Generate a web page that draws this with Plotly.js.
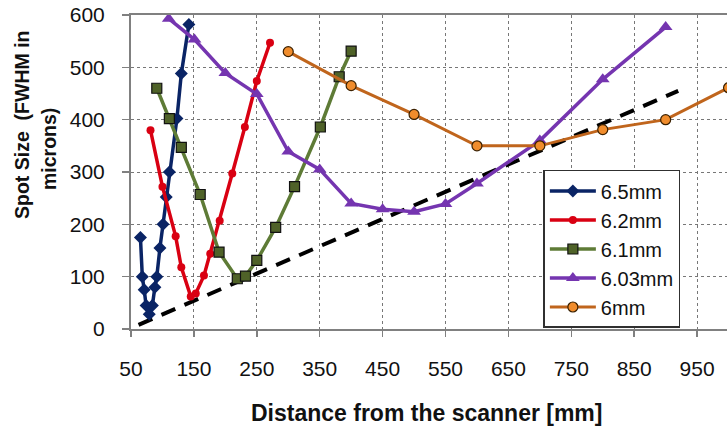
<!DOCTYPE html>
<html>
<head>
<meta charset="utf-8">
<script src="https://cdn.plot.ly/plotly-3.0.1.min.js"></script>
<style>
html,body{margin:0;padding:0;overflow:hidden;background:#fff;}
#chart{width:770px;height:433px;}
</style>
</head>
<body>
<div id="chart"></div>
<script>
// Series names
const seriesNames = ["6.5mm", "6.2mm", "6.1mm", "6.03mm", "6mm"];

// 6.5mm
const x65 = [65, 68, 71, 74, 79, 84, 88, 91, 96, 101, 106, 111, 123, 130, 142];
const y65 = [175, 100, 75, 45, 28, 45, 80, 100, 155, 200, 252, 300, 402, 488, 582];

// 6.2mm
const x62 = [81, 100, 121, 130, 145, 153, 166, 176, 191, 211, 231, 250, 271];
const y62 = [380, 272, 177, 118, 62, 68, 102, 144, 207, 297, 386, 474, 547];

// 6.1mm
const x61 = [91, 111, 130, 160, 190, 219, 232, 250, 280, 310, 351, 381, 400];
const y61 = [460, 402, 347, 257, 147, 96, 101, 131, 194, 272, 386, 482, 531];

// 6.03mm
const x603 = [110, 151, 200, 250, 300, 350, 400, 450, 500, 550, 600, 700, 800, 900];
const y603 = [593, 553, 489, 449, 339, 305, 240, 229, 224, 239, 278, 360, 477, 577];

// 6mm
const x6 = [300, 400, 500, 600, 700, 800, 900, 1000];
const y6 = [530, 465, 410, 350, 350, 381, 400, 461];

// dashed reference line
const fitX = [62, 920];
const fitY = [8, 455];

// axis ticks
const xTickVals = [50, 150, 250, 350, 450, 550, 650, 750, 850, 950];
const yTickVals = [0, 100, 200, 300, 400, 500, 600];

// titles
const xTitle = "Distance from the scanner [mm]";
const yTitleLine1 = "Spot Size  (FWHM in";
const yTitleLine2 = "microns)";

const FONT = "Liberation Sans, Arial, sans-serif";

const traces = [
  {x: fitX, y: fitY, mode: "lines", showlegend: false, hoverinfo: "skip",
   line: {color: "#000000", width: 4, dash: "15px,10px"}},
  {x: x65, y: y65, name: seriesNames[0], mode: "lines+markers",
   line: {color: "#0A2465", width: 3.5},
   marker: {symbol: "diamond", size: 10, color: "#0A2465"}},
  {x: x62, y: y62, name: seriesNames[1], mode: "lines+markers",
   line: {color: "#D90012", width: 3.5},
   marker: {symbol: "circle", size: 8, color: "#D90012"}},
  {x: x61, y: y61, name: seriesNames[2], mode: "lines+markers",
   line: {color: "#5E7B36", width: 3.5},
   marker: {symbol: "square", size: 10, color: "#4F6228", line: {color: "#111", width: 1.2}}},
  {x: x603, y: y603, name: seriesNames[3], mode: "lines+markers",
   line: {color: "#7535B0", width: 3.5},
   marker: {symbol: "triangle-up", size: 12, color: "#7535B0"}},
  {x: x6, y: y6, name: seriesNames[4], mode: "lines+markers",
   line: {color: "#C0651C", width: 3},
   marker: {symbol: "circle", size: 10, color: "#F08C2C", line: {color: "#3A2000", width: 1.2}}}
];

// plot area in pixels: left 131, top 15, width 629, height 314
const PX = (p) => (p - 131) / 629;
const PY = (p) => (329 - p) / 314;

const layout = {
  width: 770, height: 433,
  margin: {l: 131, r: 10, t: 15, b: 104},
  paper_bgcolor: "#ffffff", plot_bgcolor: "#ffffff",
  font: {family: FONT, color: "#111"},
  showlegend: true,
  legend: {
    x: 0.6556, y: 0.5064, xanchor: "left", yanchor: "top",
    bgcolor: "#ffffff", bordercolor: "#303030", borderwidth: 1.5,
    font: {family: FONT, size: 20, color: "#111"},
    tracegroupgap: 0, itemwidth: 46
  },
  xaxis: {
    range: [50, 1050], tickvals: xTickVals, ticktext: xTickVals.map(String),
    showgrid: true, gridcolor: "#777", gridwidth: 1, griddash: "dot",
    zeroline: false, showline: true, mirror: true, linecolor: "#808080", linewidth: 2,
    ticks: "outside", ticklen: 6, tickcolor: "#808080", tickwidth: 1.5,
    ticklabelstandoff: 14,
    tickfont: {family: FONT, size: 21, color: "#111"}
  },
  yaxis: {
    range: [0, 600], tickvals: yTickVals, ticktext: yTickVals.map(String),
    showgrid: true, gridcolor: "#777", gridwidth: 1, griddash: "dot",
    zeroline: false, showline: true, mirror: true, linecolor: "#808080", linewidth: 2,
    ticks: "outside", ticklen: 7, tickcolor: "#808080", tickwidth: 1.5,
    ticklabelstandoff: 13,
    tickfont: {family: FONT, size: 21, color: "#111"}
  },
  annotations: [
    {text: "<b>" + xTitle + "</b>", xref: "paper", yref: "paper",
     x: PX(426), y: PY(413), xanchor: "center", yanchor: "middle", showarrow: false,
     font: {family: FONT, size: 23, color: "#111"}},
    {text: "<b>" + yTitleLine1 + "</b>", xref: "paper", yref: "paper", textangle: -90,
     x: PX(22), y: PY(125), xanchor: "center", yanchor: "middle", showarrow: false,
     font: {family: FONT, size: 19.5, color: "#111"}},
    {text: "<b>" + yTitleLine2 + "</b>", xref: "paper", yref: "paper", textangle: -90,
     x: PX(49), y: PY(149), xanchor: "center", yanchor: "middle", showarrow: false,
     font: {family: FONT, size: 19.5, color: "#111"}}
  ]
};

Plotly.newPlot("chart", traces, layout, {displayModeBar: false, staticPlot: true});
</script>
</body>
</html>
